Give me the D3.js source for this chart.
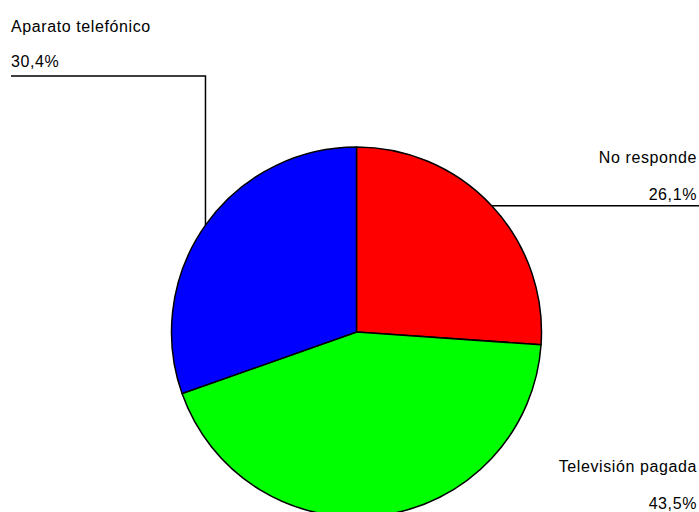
<!DOCTYPE html>
<html>
<head>
<meta charset="utf-8">
<script src="https://cdn.jsdelivr.net/npm/d3@7"></script>
<style>
  html, body { margin: 0; padding: 0; background: #fff; }
  svg { display: block; }
  text { font-family: "Liberation Sans", Arial, sans-serif; font-size: 16px; letter-spacing: 0.6px; fill: #000; }
</style>
</head>
<body>
<script>
const categories = ["No responde", "Televisión pagada", "Aparato telefónico"];
const values = [26.1, 43.5, 30.4];
const valueLabels = ["26,1%", "43,5%", "30,4%"];
const colors = ["#ff0000", "#00ff00", "#0000ff"];

const W = 699, H = 512;
const cx = 356.5, cy = 332, R = 185;

const svg = d3.select("body").append("svg").attr("width", W).attr("height", H);

const data = categories.map((c, i) => ({ name: c, value: values[i], label: valueLabels[i], color: colors[i] }));

const pie = d3.pie().value(d => d.value).sort(null);
const arcs = pie(data);
const arc = d3.arc().innerRadius(0).outerRadius(R);

const g = svg.append("g").attr("transform", `translate(${cx},${cy})`);

g.selectAll("path.slice").data(arcs).enter().append("path")
  .attr("class", "slice")
  .attr("d", arc)
  .attr("fill", d => d.data.color)
  .attr("stroke", "#000")
  .attr("stroke-width", 1.5)
  .attr("stroke-linejoin", "round");

function edgePoint(a) {
  const m = (a.startAngle + a.endAngle) / 2;
  return [cx + R * Math.sin(m), cy - R * Math.cos(m)];
}

const pNo = edgePoint(arcs[0]);
svg.append("path")
  .attr("d", `M${pNo[0]},${pNo[1]} L${W},${pNo[1]}`)
  .attr("fill", "none").attr("stroke", "#000").attr("stroke-width", 1.5);

const pAp = edgePoint(arcs[2]);
svg.append("path")
  .attr("d", `M${pAp[0]},${pAp[1]} L${pAp[0]},76 L11,76`)
  .attr("fill", "none").attr("stroke", "#000").attr("stroke-width", 1.5);

const labelPos = [
  { x: 697, y1: 163.3, y2: 200, anchor: "end" },
  { x: 697, y1: 472.3, y2: 509, anchor: "end" },
  { x: 11, y1: 32.3, y2: 66.7, anchor: "start" }
];
data.forEach((d, i) => {
  const p = labelPos[i];
  svg.append("text").attr("x", p.x).attr("y", p.y1).attr("text-anchor", p.anchor).text(d.name);
  svg.append("text").attr("x", p.x).attr("y", p.y2).attr("text-anchor", p.anchor).text(d.label);
});
</script>
</body>
</html>
